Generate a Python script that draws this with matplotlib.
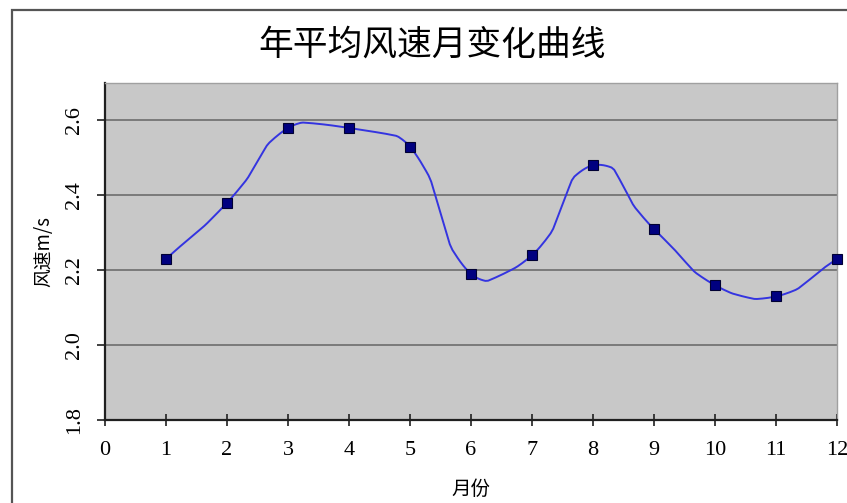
import numpy as np
import matplotlib
matplotlib.use("Agg")
import matplotlib.pyplot as plt
from matplotlib.patches import Rectangle

plt.rcParams['font.family'] = ['Noto Sans CJK SC', 'DejaVu Sans']

months = [1, 2, 3, 4, 5, 6, 7, 8, 9, 10, 11, 12]
wind_speed = [2.23, 2.38, 2.58, 2.58, 2.53, 2.19, 2.24, 2.48, 2.31, 2.16, 2.13, 2.23]
x_ticks = list(range(0, 13))
y_ticks = [1.8, 2.0, 2.2, 2.4, 2.6]
title = "年平均风速月变化曲线"
x_label = "月份"
y_label = "风速m/s"


def smooth_curve(xs, ys, sx=61.0, sy=1500.0, sharp=0.5, n=24):
    """Spreadsheet-style smoothed line: cubic Bezier segments whose control
    arms are 1/6 of the neighbour chord, capped at half the segment length
    (measured in a scaled space sx, sy), drawn slightly pulled toward the
    control polygon."""
    p = np.column_stack([xs, ys]).astype(float)
    scale = np.array([sx, sy])
    pts = np.vstack([p[0], p, p[-1]])

    def dist(a, b):
        return float(np.hypot(*((b - a) * scale)))

    t = np.linspace(0, 1, n)[:, None]
    out = []
    for i in range(1, len(pts) - 2):
        p0, p1, p2, p3 = pts[i - 1], pts[i], pts[i + 1], pts[i + 2]
        d12 = dist(p1, p2)
        d02 = dist(p0, p2)
        d13 = dist(p1, p3)
        f1 = 1 / 6 if d02 / 6 < d12 / 2 else (d12 / (2 * d02) if d02 > 0 else 0)
        f2 = 1 / 6 if d13 / 6 < d12 / 2 else (d12 / (2 * d13) if d13 > 0 else 0)
        c1 = p1 + f1 * (p2 - p0)
        c2 = p2 - f2 * (p3 - p1)
        bez = ((1 - t) ** 3) * p1 + 3 * ((1 - t) ** 2) * t * c1 \
            + 3 * (1 - t) * t ** 2 * c2 + t ** 3 * p2
        # piecewise-linear walk along the control polygon
        tt = t[:, 0] * 3
        k = np.clip(np.floor(tt).astype(int), 0, 2)
        frac = (tt - k)[:, None]
        ctrl = np.array([p1, c1, c2, p2])
        lin = ctrl[k] * (1 - frac) + ctrl[k + 1] * frac
        seg = (1 - sharp) * bez + sharp * lin
        out.append(seg if i == 1 else seg[1:])
    curve = np.vstack(out)
    return curve[:, 0], curve[:, 1]


W, H = 847, 503
fig = plt.figure(figsize=(W / 100, H / 100), dpi=100)
fig.patch.set_facecolor("white")

# outer chart frame
fig.add_artist(Rectangle((12 / W, -0.05), 1.2, 1 - 10 / H + 0.05, transform=fig.transFigure,
                         fill=False, edgecolor="#555555", linewidth=1.6))

ax = fig.add_axes([105 / W, 1 - 420 / H, (837 - 105) / W, (420 - 83) / H])
ax.set_facecolor("#c8c8c8")

cx, cy = smooth_curve(months, wind_speed)
ax.plot(cx, cy, color="#3434e0", linewidth=1.4, zorder=3, solid_joinstyle="round")
ax.plot(months, wind_speed, linestyle="none", marker="s", markersize=7.5,
        markerfacecolor="#000080", markeredgecolor="#000033", markeredgewidth=0.8,
        zorder=4, clip_on=False)

ax.set_xlim(0, 12)
ax.set_ylim(1.8, 2.7)
ax.set_xticks(x_ticks)
ax.set_yticks(y_ticks)
ax.set_yticklabels([f"{v:.1f}" for v in y_ticks], rotation=90, va="center",
                   family="Liberation Serif", fontsize=16)
ax.set_xticklabels([str(v) for v in x_ticks], family="Liberation Serif", fontsize=16)

ax.yaxis.grid(True, color="#7a7a7a", linewidth=1.4)
ax.set_axisbelow(True)

for side in ("left", "bottom"):
    ax.spines[side].set_color("#202020")
    ax.spines[side].set_linewidth(1.6)
for side in ("top", "right"):
    ax.spines[side].set_color("#a0a0a0")
    ax.spines[side].set_linewidth(1.0)

ax.tick_params(axis="x", direction="inout", length=8, width=1.2, color="#202020", pad=11)
ax.tick_params(axis="y", direction="out", length=6, width=1.2, color="#202020", pad=9)

ax.set_xlabel(x_label, fontsize=14, labelpad=14)
ax.set_ylabel(y_label, fontsize=13.5, labelpad=8)

fig.text(432 / W, 1 - 45 / H, title, ha="center", va="center", fontsize=25)

fig.savefig("out.png", dpi=100)
